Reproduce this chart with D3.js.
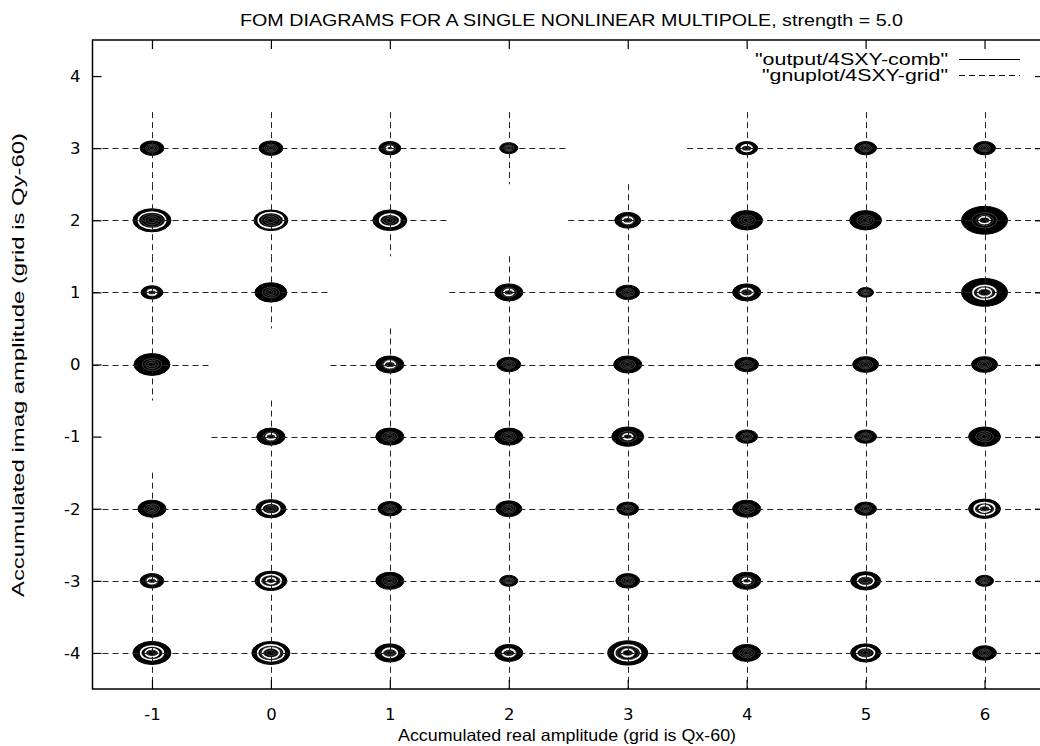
<!DOCTYPE html>
<html>
<head>
<meta charset="utf-8">
<script src="https://cdn.jsdelivr.net/npm/d3@7"></script>
<style>
  html, body { margin: 0; padding: 0; background: #fff; }
  svg { display: block; font-family: "Liberation Sans", Arial, Helvetica, sans-serif; }
</style>
</head>
<body>
<svg id="chart" width="1040" height="746"></svg>
<script>
// ---------- data ----------
const xCategories = [-1, 0, 1, 2, 3, 4, 5, 6];
const yCategories = [3, 2, 1, 0, -1, -2, -3, -4];
const xTicks = [-1, 0, 1, 2, 3, 4, 5, 6];
const yTicks = [4, 3, 2, 1, 0, -1, -2, -3, -4];

// outer contour radius (data units) per grid point, rows follow yCategories, null = no point
const radii = [
  [0.100, 0.100, 0.092, 0.076, null,  0.092, 0.092, 0.092],
  [0.160, 0.143, 0.143, null,  0.109, 0.134, 0.134, 0.193],
  [0.092, 0.134, null,  0.118, 0.100, 0.118, 0.067, 0.193],
  [0.151, null,  0.118, 0.100, 0.118, 0.100, 0.109, 0.109],
  [null,  0.118, 0.118, 0.118, 0.134, 0.092, 0.092, 0.134],
  [0.118, 0.126, 0.100, 0.109, 0.092, 0.118, 0.092, 0.134],
  [0.100, 0.134, 0.118, 0.076, 0.100, 0.118, 0.126, 0.076],
  [0.160, 0.160, 0.126, 0.118, 0.168, 0.118, 0.126, 0.100]
];
// strong white contour gaps (fraction of outer radius)
const whiteRings = [
  [[],        [],         [0.3],      [],    null,        [0.5],  [],     []],
  [[0.72],    [0.75],     [0.6],      null,  [0.4],       [],     [],     [0.25]],
  [[0.4],     [],         null,       [0.35],[],          [0.45], [],     [0.5, 0.3]],
  [[],        null,       [0.4],      [],    [],          [],     [],     []],
  [null,      [0.35],     [],         [],    [0.3],       [],     [],     []],
  [[],        [0.6],      [],         [],    [],          [],     [],     [0.65, 0.35]],
  [[0.4],     [0.65, 0.3],[],         [],    [],          [0.3],  [0.55], []],
  [[0.6,0.35],[0.7, 0.45],[0.5],      [0.45],[0.65, 0.3], [],     [0.6],  []]
];
// faint inner contour gaps (fraction of outer radius)
const faintRings = [0.55, 0.38, 0.22];

const titleText = "FOM DIAGRAMS FOR A SINGLE NONLINEAR MULTIPOLE, strength = 5.0";
const xLabel = "Accumulated real amplitude (grid is Qx-60)";
const yLabel = "Accumulated imag amplitude (grid is Qy-60)";
const legendLabels = ["\"output/4SXY-comb\"", "\"gnuplot/4SXY-grid\""];

// ---------- layout ----------
const svg = d3.select("#chart");
const pL = 92.5, pR = 1044, pT = 40, pB = 689;
const FS = 16.5;
const x = d3.scaleLinear().domain([-1.5, 6.5]).range([pL, pR]);
const y = d3.scaleLinear().domain([-4.5, 4.5]).range([pB, pT]);

// build points
const points = [];
yCategories.forEach((yv, i) => {
  xCategories.forEach((xv, j) => {
    const r = radii[i][j];
    if (r != null) points.push({x: xv, y: yv, r: r, rings: whiteRings[i][j] || []});
  });
});

// ---------- contours ----------
const gC = svg.append("g");
points.forEach(p => {
  const cx = x(p.x), cy = y(p.y);
  const rx = x(p.x + p.r) - cx, ry = y(p.y - p.r) - cy;
  gC.append("ellipse").attr("cx", cx).attr("cy", cy).attr("rx", rx).attr("ry", ry)
    .attr("fill", "#000").attr("stroke", "#000").attr("stroke-width", 1);
  faintRings.forEach(f => {
    gC.append("ellipse").attr("cx", cx).attr("cy", cy).attr("rx", rx * f).attr("ry", ry * f)
      .attr("fill", "none").attr("stroke", "#fff").attr("stroke-opacity", 0.35).attr("stroke-width", 0.7);
  });
  p.rings.forEach(f => {
    gC.append("ellipse").attr("cx", cx).attr("cy", cy).attr("rx", rx * f).attr("ry", ry * f)
      .attr("fill", "none").attr("stroke", "#fff").attr("stroke-width", 1.6);
  });
});

// ---------- grid segments ----------
const gG = svg.append("g").attr("stroke", "#222").attr("stroke-width", 1)
  .attr("stroke-dasharray", "6,4").attr("fill", "none");
points.forEach(p => {
  gG.append("line").attr("x1", x(p.x - 0.5)).attr("x2", x(p.x + 0.5))
    .attr("y1", Math.round(y(p.y)) + 0.5).attr("y2", Math.round(y(p.y)) + 0.5);
  gG.append("line").attr("x1", Math.round(x(p.x)) + 0.5).attr("x2", Math.round(x(p.x)) + 0.5)
    .attr("y1", y(p.y + 0.5)).attr("y2", y(p.y - 0.5));
});

// ---------- frame and ticks ----------
svg.append("rect").attr("x", pL).attr("y", pT).attr("width", pR - pL).attr("height", pB - pT)
  .attr("fill", "none").attr("stroke", "#000").attr("stroke-width", 1.5);

const tl = 9;
const fmt = d => String(d);
const axB = d3.axisBottom(x).tickValues(xTicks).tickSize(-tl).tickPadding(19).tickFormat(fmt);
const axT = d3.axisTop(x).tickValues(xTicks).tickSize(-tl).tickFormat("");
const axL = d3.axisLeft(y).tickValues(yTicks).tickSize(-tl).tickPadding(12).tickFormat(fmt);
const axR = d3.axisRight(y).tickValues(yTicks).tickSize(-tl).tickFormat("");

function styleAxis(g) {
  g.select(".domain").remove();
  g.selectAll(".tick line").attr("stroke", "#000").attr("stroke-width", 1.2);
  g.selectAll(".tick text").attr("font-size", FS).attr("fill", "#000")
    .attr("font-family", "'DejaVu Sans', 'Liberation Sans', sans-serif");
}
svg.append("g").attr("transform", `translate(0,${pB})`).call(axB).call(styleAxis);
svg.append("g").attr("transform", `translate(0,${pT})`).call(axT).call(styleAxis);
svg.append("g").attr("transform", `translate(${pL},0)`).call(axL).call(styleAxis);
svg.append("g").attr("transform", `translate(${pR},0)`).call(axR).call(styleAxis);

// ---------- texts ----------
svg.append("text").attr("x", 240).attr("y", 26).attr("font-size", FS)
  .attr("textLength", 663).attr("lengthAdjust", "spacingAndGlyphs").text(titleText);
svg.append("text").attr("x", 398).attr("y", 741).attr("font-size", FS)
  .attr("textLength", 338).attr("lengthAdjust", "spacingAndGlyphs").text(xLabel);
svg.append("text").attr("transform", `translate(24,597) rotate(-90)`)
  .attr("font-size", FS).attr("textLength", 464).attr("lengthAdjust", "spacingAndGlyphs").text(yLabel);

// ---------- legend ----------
const legY = [59, 75];
const legW = [193, 186];
legendLabels.forEach((t, i) => {
  svg.append("text").attr("x", 948 - legW[i]).attr("y", legY[i] + 6)
    .attr("font-size", FS).attr("textLength", legW[i]).attr("lengthAdjust", "spacingAndGlyphs").text(t);
  svg.append("line").attr("x1", 959).attr("x2", 1020).attr("y1", legY[i] + 0.5).attr("y2", legY[i] + 0.5)
    .attr("stroke", "#000").attr("stroke-width", 1)
    .attr("stroke-dasharray", i === 1 ? "6,4" : null);
});
</script>
</body>
</html>
